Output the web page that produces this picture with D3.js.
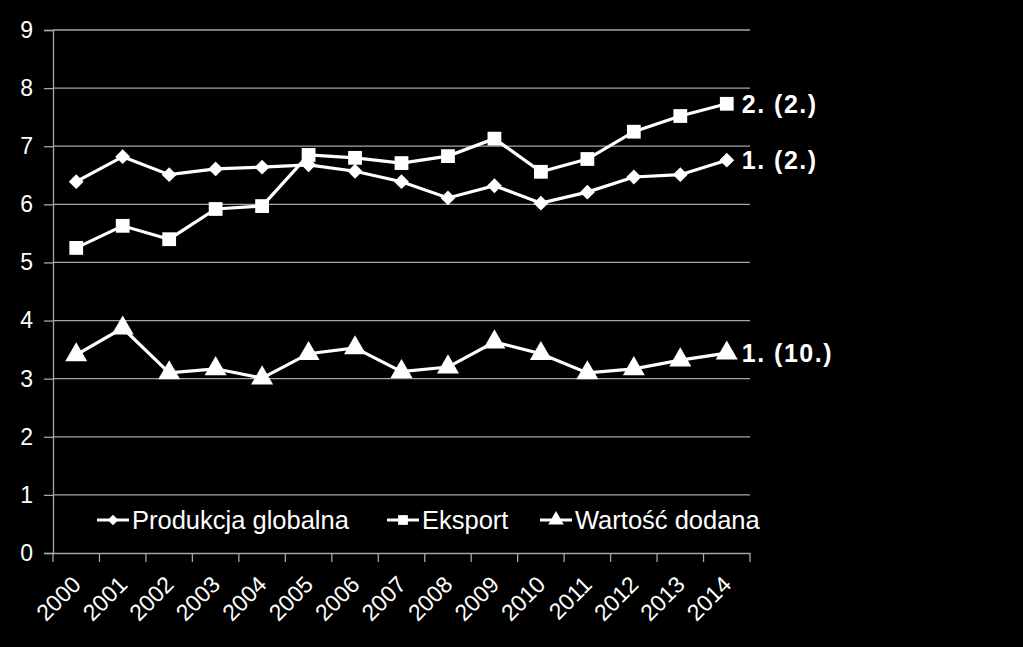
<!DOCTYPE html>
<html><head><meta charset="utf-8">
<script src="https://cdn.jsdelivr.net/npm/d3@7"></script>
<style>html,body{margin:0;padding:0;background:#000;}svg{display:block;}</style>
</head><body>
<script>
const years = ["2000","2001","2002","2003","2004","2005","2006","2007","2008","2009","2010","2011","2012","2013","2014"];
const produkcja = [6.39,6.82,6.51,6.61,6.64,6.68,6.57,6.39,6.11,6.32,6.02,6.21,6.47,6.51,6.76];
const eksport = [5.25,5.63,5.40,5.92,5.97,6.85,6.80,6.71,6.83,7.13,6.56,6.78,7.25,7.52,7.73];
const wartosc = [3.41,3.87,3.10,3.17,3.01,3.43,3.53,3.12,3.20,3.63,3.43,3.10,3.17,3.32,3.44];
const yTicks = [0,1,2,3,4,5,6,7,8,9];
const seriesNames = ["Produkcja globalna","Eksport","Wartość dodana"];
const endLabels = ["1. (2.)","2. (2.)","1. (10.)"];

const W=1023,H=647;
const FONT="Liberation Sans, Arial, sans-serif";
const svg=d3.select("body").append("svg").attr("width",W).attr("height",H).style("background","#000");
const x=d3.scaleBand().domain(years).range([53,750]);
const y=d3.scaleLinear().domain([0,9]).range([553,30]);
const grid="#a6a6a6";

// gridlines
svg.append("g").selectAll("line").data(yTicks.filter(d=>d>0)).join("line")
 .attr("x1",53).attr("x2",750).attr("y1",d=>y(d)).attr("y2",d=>y(d))
 .attr("stroke",grid).attr("stroke-width",1.3);

// y axis
const ya=svg.append("g").attr("transform","translate(53,0)")
 .call(d3.axisLeft(y).tickValues(yTicks).tickSize(9).tickPadding(11).tickFormat(d3.format("d")));
ya.select(".domain").attr("stroke",grid).attr("stroke-width",1.3);
ya.selectAll(".tick line").attr("stroke",grid).attr("stroke-width",1.3);
ya.selectAll("text").attr("fill","#fff").attr("font-family",FONT).attr("font-size",23);

// x axis
const xa=svg.append("g").attr("transform","translate(0,553)")
 .call(d3.axisBottom(x).tickSize(0).tickFormat(d=>d));
xa.select(".domain").attr("stroke",grid).attr("stroke-width",1.3);
xa.selectAll(".tick text").attr("fill","#fff").attr("font-family",FONT).attr("font-size",23)
 .attr("text-anchor","end").attr("dy",0).attr("y",0)
 .attr("transform","translate(6,33) rotate(-45)");
// x tick marks at band boundaries
const bounds=years.map(d=>x(d)).concat([x.range()[1]]);
svg.append("g").selectAll("line").data(bounds).join("line")
 .attr("x1",d=>d).attr("x2",d=>d).attr("y1",553).attr("y2",562)
 .attr("stroke",grid).attr("stroke-width",1.3);

const cx=d=>x(d)+x.bandwidth()/2;
const data=[produkcja,eksport,wartosc];
const diamond={draw(ctx,size){const r=Math.sqrt(size)/2*1.05;ctx.moveTo(0,-r);ctx.lineTo(r,0);ctx.lineTo(0,r);ctx.lineTo(-r,0);ctx.closePath();}};
const symbols=[diamond,d3.symbolSquare,d3.symbolTriangle];
const sizes=[200,190,210];
const line=d3.line().x((d,i)=>cx(years[i])).y(d=>y(d));

data.forEach((vals,si)=>{
 svg.append("path").datum(vals).attr("d",line).attr("fill","none").attr("stroke","#fff").attr("stroke-width",3.2);
 svg.append("g").selectAll("path").data(vals).join("path")
  .attr("d",d3.symbol().type(symbols[si]).size(sizes[si]))
  .attr("transform",(d,i)=>`translate(${cx(years[i])},${y(d)})`)
  .attr("fill","#fff");
 const last=vals[vals.length-1];
 svg.append("text").attr("x",cx(years[years.length-1])+15).attr("y",y(last)).attr("dy","0.36em")
  .attr("fill","#fff").attr("font-family",FONT).attr("font-weight","bold").attr("font-size",25)
  .attr("letter-spacing",1.5)
  .text(endLabels[si]);
});

// legend
const legX=[97,387,540];
const legY=520;
seriesNames.forEach((n,i)=>{
 const g=svg.append("g").attr("transform",`translate(${legX[i]},${legY})`);
 g.append("line").attr("x1",0).attr("x2",32).attr("y1",0).attr("y2",0).attr("stroke","#fff").attr("stroke-width",3);
 g.append("path").attr("d",d3.symbol().type(symbols[i]).size(sizes[i]*0.5)).attr("transform","translate(16,0)").attr("fill","#fff");
 g.append("text").attr("x",35).attr("y",0).attr("dy","0.36em").attr("fill","#fff")
  .attr("font-family",FONT).attr("font-size",25.5).text(n);
});
</script>
</body></html>
